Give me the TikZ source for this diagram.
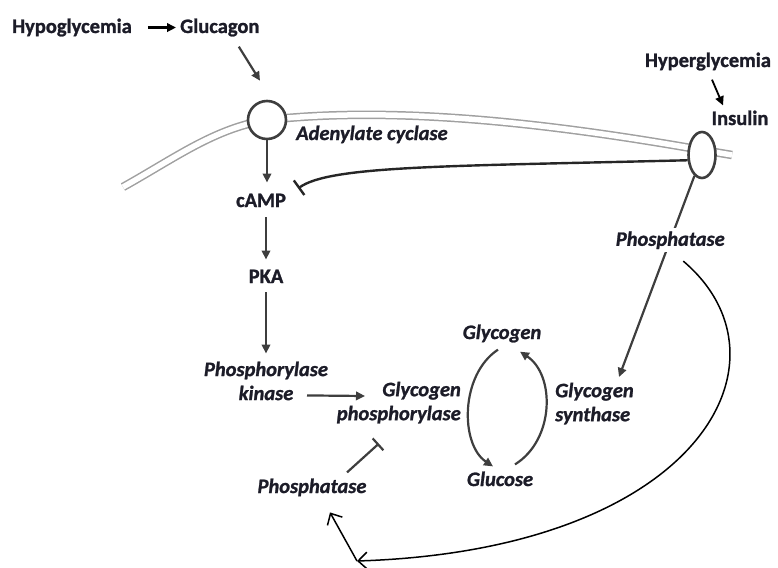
\documentclass[tikz,border=0pt]{standalone}
\usepackage{fontspec}
\setmainfont{Carlito}[BoldFeatures={FakeBold=1.2},BoldItalicFeatures={FakeBold=1.2}]
\usepackage{xcolor}
\usepackage{tikz}
\usetikzlibrary{shapes,arrows.meta,positioning,calc}
\definecolor{inkcol}{RGB}{28,28,40}
\definecolor{arrcol}{RGB}{62,62,62}
\definecolor{memcol}{RGB}{160,160,160}
\newcommand{\diagfont}{\fontsize{20.5}{24}\selectfont}
\tikzset{
    molecule/.style={
        font=\diagfont\bfseries,
        text=inkcol,
        inner sep=0pt
    },
    enzyme/.style={
        molecule,
        font=\diagfont\bfseries\itshape
    },
    receptor/.style={
        draw=arrcol,
        line width=2.6pt,
        fill=white
    },
    membrane/.style={
        draw=memcol,
        line width=1.5pt,
        double=white,
        double distance=5.5pt
    },
    activation/.style={
        -{Triangle[length=9pt,width=8.5pt]},
        draw=arrcol,
        line width=2.2pt
    },
    inhibition/.style={
        -{Bar[width=18pt]},
        draw=arrcol,
        line width=2.2pt
    },
    feedback/.style={
        -{Straight Barb[length=9pt,width=17pt]},
        draw=black,
        line width=1.5pt
    }
}

\begin{document}
\begin{tikzpicture}[x=1pt,y=-1pt]
\useasboundingbox (0,0) rectangle (778,567);

% cell membrane
\draw[membrane] (123,187) .. controls (175,158) and (215,128) .. (267,120)
    .. controls (400,105) and (560,125) .. (702,150) -- (732,155);

% glucagon side
\node[molecule, anchor=base west] (hypo) at (12,33) {Hypoglycemia};
\node[molecule, anchor=base west] (glucagon) at (180,33) {Glucagon};
\node[receptor, circle, minimum size=38pt] (cyclase) at (267,120) {};
\node[enzyme, anchor=base west] (cyclase-lbl) at (296,140) {Adenylate cyclase};
\node[molecule, anchor=base] (camp) at (261,207) {cAMP};
\node[molecule, anchor=base] (pka) at (266,283) {PKA};
\node[enzyme, anchor=north, align=center] (kinase) at (266,361.5) {Phosphorylase\\kinase};
\node[enzyme, anchor=north east, align=right] (gp) at (461,381.6) {Glycogen\\phosphorylase};
\node[enzyme, anchor=base] (phosph-low) at (312,493) {Phosphatase};

% glycogen cycle
\node[enzyme, anchor=base] (glycogen) at (502,339) {Glycogen};
\node[enzyme, anchor=base] (glucose) at (500,486) {Glucose};
\node[enzyme, anchor=north west, align=left] (gs) at (555,382.6) {Glycogen\\synthase};

% insulin side
\node[molecule, anchor=base] (hyper) at (708,67) {Hyperglycemia};
\node[molecule, anchor=base] (insulin) at (740,125) {Insulin};
\node[receptor, ellipse, minimum width=27pt, minimum height=46pt, inner sep=0pt] (insrec) at (702,155) {};
\coordinate (turn) at (357,561);

% arrows
\draw[activation, draw=black] ([xshift=16pt]hypo.east) -- ([xshift=-4pt]glucagon.west);
\draw[activation] ([shift={(19,10)}]glucagon.south) -- ([shift={(-7,-19)}]cyclase.north);
\draw[activation] (cyclase.south) -- ([yshift=11pt]cyclase.south |- camp.north);
\draw[activation, shorten <=10pt, shorten >=10pt] (pka.north |- camp.south) -- (pka.north);
\draw[activation, shorten <=9pt, shorten >=8pt] (pka.south) -- (kinase.north);
\draw[activation] ([shift={(41,-5)}]kinase.south) -- ([shift={(-96,14.4)}]gp.north east);
\draw[activation] ([shift={(-4,7)}]glycogen.south) .. controls +(-38,25) and +(-33,-22) .. ([shift={(-7,-5)}]glucose.north);
\draw[activation] ([shift={(15,-7)}]glucose.north) .. controls +(40,-25) and +(35,23) .. ([shift={(18,9)}]glycogen.south);
\draw[activation, draw=black, line width=1.8pt] ([shift={(4,9)}]hyper.south) -- ([shift={(-17,-5)}]insulin.north);
\draw[activation] (insrec.250) -- node[enzyme, pos=0.32, fill=white, inner sep=3pt] (phosph-up) {Phosphatase} ([shift={(64,-5.6)}]gs.north west);

% inhibitions
\draw[inhibition, line width=2.4pt, draw=black!85] (insrec.200) .. controls +(-240,6) and +(32,-23) .. ([shift={(12,-12)}]camp.east);
\draw[inhibition, -{Bar[width=16pt]}] ([shift={(35,-6)}]phosph-low.north) -- ([shift={(-20,20)}]gp.south);

% phosphatase feedback loop
\draw[feedback] ([shift={(13,8)}]phosph-up.south) .. controls (800,360) and (700,550) .. (turn);
\draw[feedback] (turn) -- ([shift={(18,16)}]phosph-low.south);
\end{tikzpicture}
\end{document}
